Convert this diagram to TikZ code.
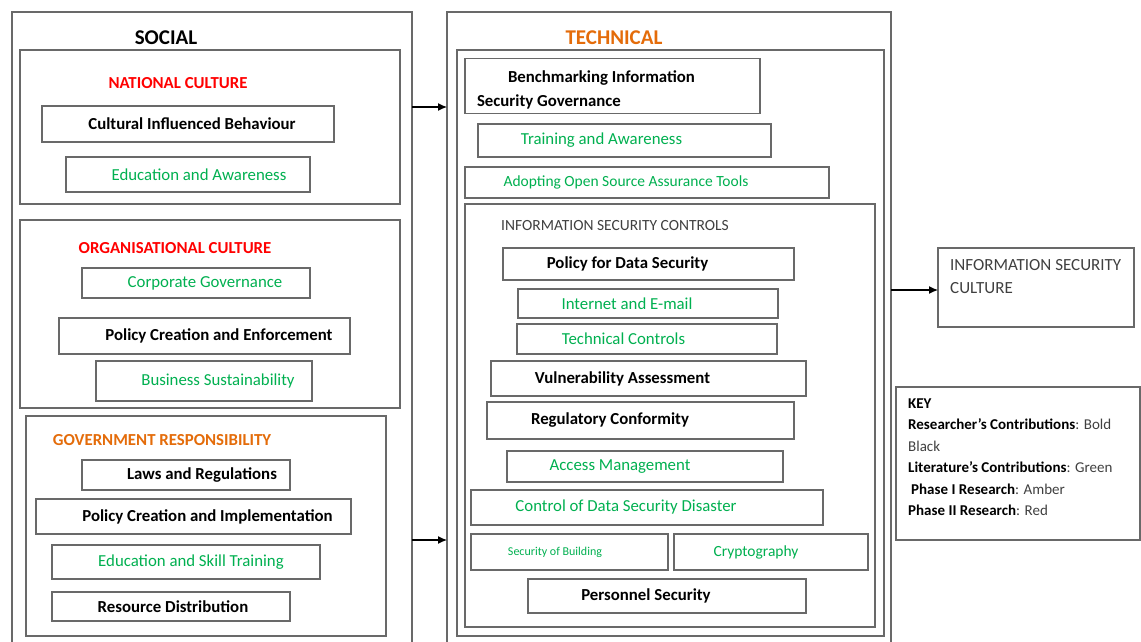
\documentclass[tikz,border=0pt]{standalone}
\usepackage{fontspec}
\setmainfont{Carlito}
\usetikzlibrary{arrows.meta}
\definecolor{litgreen}{RGB}{0,176,80}
\definecolor{amber}{RGB}{228,108,10}
\definecolor{boxgray}{RGB}{105,105,105}
\definecolor{textgray}{RGB}{64,64,64}

\begin{document}
\begin{tikzpicture}[x=1pt,y=-1pt]
  \tikzset{GroupStyle/.style = {
    shape         = rectangle,
    draw          = boxgray,
    line width    = 1.3pt,
    inner sep     = 0pt,
    outer sep     = 0pt
    }
  }
  \tikzset{BoxStyle/.style = {
    shape         = rectangle,
    draw          = boxgray,
    fill          = white,
    line width    = 1.3pt,
    inner sep     = 2pt,
    outer sep     = 0pt
    }
  }
  \tikzset{BoldLabel/.style = {
    BoxStyle,
    text          = black,
    font          = \fontsize{16.8}{20}\selectfont\bfseries
    }
  }
  \tikzset{GreenLabel/.style = {
    BoxStyle,
    text          = litgreen,
    font          = \fontsize{16.8}{20}\selectfont
    }
  }
  \tikzset{TitleStyle/.style = {
    inner sep     = 0pt,
    font          = \fontsize{16.8}{20}\selectfont\bfseries
    }
  }
  \tikzset{ArrowStyle/.style = {
    draw          = black,
    line width    = 1.2pt,
    -{Latex[length=9pt,width=8pt]}
    }
  }

  \clip (0,0) rectangle (1141,641);
  \fill[white] (0,0) rectangle (1141,641);

  % social side
  \node[GroupStyle, minimum width=400, minimum height=640](Social) at (212,332) {};
  \node[TitleStyle, font=\fontsize{21}{24}\selectfont\bfseries](SocialT) at (166,38) {SOCIAL};

  \node[GroupStyle, minimum width=380, minimum height=154](NatCult) at (210,127) {};
  \node[TitleStyle, text=red](NatCultT) at (178,83) {NATIONAL CULTURE};
  \node[BoldLabel, minimum width=292, minimum height=36](CultBeh) at (188,124) {\hspace*{8pt}Cultural Influenced Behaviour};
  \node[GreenLabel, minimum width=244, minimum height=35](EduAw) at (188,174.5) {\hspace*{22pt}Education and Awareness};

  \node[GroupStyle, minimum width=380, minimum height=188](OrgCult) at (210,314) {};
  \node[TitleStyle, text=red](OrgCultT) at (175,248) {ORGANISATIONAL CULTURE};
  \node[GreenLabel, minimum width=228, minimum height=30](CorpGov) at (196,283) {\hspace*{18pt}Corporate Governance};
  \node[BoldLabel, minimum width=291, minimum height=36](PolEnf) at (204.5,336) {\hspace*{29pt}Policy Creation and Enforcement};
  \node[GreenLabel, minimum width=216, minimum height=40](BusSus) at (204,381) {\hspace*{28pt}Business Sustainability};

  \node[GroupStyle, minimum width=360, minimum height=220](GovResp) at (206,526) {};
  \node[TitleStyle, text=amber](GovRespT) at (162,440) {GOVERNMENT RESPONSIBILITY};
  \node[BoldLabel, minimum width=208, minimum height=30](LawReg) at (186,475) {\hspace*{32pt}Laws and Regulations};
  \node[BoldLabel, minimum width=315, minimum height=35](PolImp) at (193.5,516.5) {\hspace*{28pt}Policy Creation and Implementation};
  \node[GreenLabel, minimum width=268, minimum height=34](EduSkill) at (186,562) {\hspace*{10pt}Education and Skill Training};
  \node[BoldLabel, minimum width=238, minimum height=29](ResDist) at (171,606.5) {\hspace*{4pt}Resource Distribution};

  % technical side
  \node[GroupStyle, minimum width=444, minimum height=640](Technical) at (669,332) {};
  \node[TitleStyle, text=amber, font=\fontsize{21}{24}\selectfont\bfseries](TechnicalT) at (614,38) {TECHNICAL};
  \node[GroupStyle, minimum width=427, minimum height=586](TechInner) at (670.5,343) {};

  \node[BoldLabel, minimum width=295, minimum height=55, inner xsep=12pt, text width=271pt,
    align=left, font=\fontsize{16.8}{24}\selectfont\bfseries](Bench) at (612.5,86)
    {\spaceskip=0pt\xspaceskip=0pt\rule{0pt}{19pt}\hspace*{31pt}Benchmarking Information\\Security Governance};
  \node[GreenLabel, minimum width=293, minimum height=33](TrainAw) at (624.5,140.5) {Training and Awareness\hspace*{46pt}};
  \node[GreenLabel, minimum width=364, minimum height=31, font=\fontsize{15.5}{18}\selectfont](OpenSrc) at (647,182.5) {Adopting Open Source Assurance Tools\hspace*{42pt}};

  \node[GroupStyle, minimum width=410, minimum height=423](Controls) at (670,415.5) {};
  \node[TitleStyle, text=textgray, font=\fontsize{15.5}{18}\selectfont](ControlsT) at (615,226) {INFORMATION SECURITY CONTROLS};
  \node[BoldLabel, minimum width=291, minimum height=32](PolData) at (648.5,264) {Policy for Data Security\hspace*{42pt}};
  \node[GreenLabel, minimum width=260, minimum height=29](IntMail) at (648,303.5) {Internet and E-mail\hspace*{42pt}};
  \node[GreenLabel, minimum width=260, minimum height=30](TechCtl) at (647,339) {Technical Controls\hspace*{47pt}};
  \node[BoldLabel, minimum width=315, minimum height=35](VulnAss) at (648.5,378.5) {Vulnerability Assessment\hspace*{52pt}};
  \node[BoldLabel, minimum width=307, minimum height=37](RegConf) at (640.5,420.5) {Regulatory Conformity\hspace*{61pt}};
  \node[GreenLabel, minimum width=276, minimum height=31](AccMan) at (645,466.5) {Access Management\hspace*{50pt}};
  \node[GreenLabel, minimum width=352, minimum height=35](CtrlDis) at (647,507.5) {Control of Data Security Disaster\hspace*{42pt}};
  \node[GreenLabel, minimum width=197, minimum height=36, font=\fontsize{12}{14}\selectfont](SecBld) at (569.5,552) {Security of Building\hspace*{29pt}};
  \node[GreenLabel, minimum width=194, minimum height=36, font=\fontsize{15.5}{18}\selectfont](Crypto) at (771,552) {Cryptography\hspace*{30pt}};
  \node[BoldLabel, minimum width=278, minimum height=34](PersSec) at (667,596) {Personnel Security\hspace*{42pt}};

  % outcome and key
  \node[BoxStyle, minimum width=196, minimum height=79](Culture) at (1036,287.5) {};
  \node[anchor=north west, inner sep=0pt, text=textgray, align=left,
    font=\fontsize{17}{23}\selectfont](CultureT) at (950,259.5) {INFORMATION SECURITY\\CULTURE};

  \node[BoxStyle, minimum width=244, minimum height=153](Key) at (1018,463.5) {};
  \node[anchor=north west, inner sep=0pt, align=left, text=textgray,
    font=\fontsize{15}{21.4}\selectfont](KeyT) at (908,398.5)
    {\textbf{\color{black}KEY}\\
     \textbf{\color{black}Researcher’s Contributions}: Bold\\
     Black\\
     \textbf{\color{black}Literature’s Contributions}: Green\\
     \hspace*{3pt}\textbf{\color{black}Phase I Research}: Amber\\
     \textbf{\color{black}Phase II Research}: Red};

  % arrows
  \coordinate (ArrowA) at (0,107);
  \coordinate (ArrowB) at (0,540);
  \coordinate (ArrowC) at (0,290);
  \draw[ArrowStyle] (Social.east |- ArrowA) -- (Technical.west |- ArrowA);
  \draw[ArrowStyle] (Social.east |- ArrowB) -- (Technical.west |- ArrowB);
  \draw[ArrowStyle] (Technical.east |- ArrowC) -- (Culture.west |- ArrowC);

  \end{tikzpicture}
\end{document}
